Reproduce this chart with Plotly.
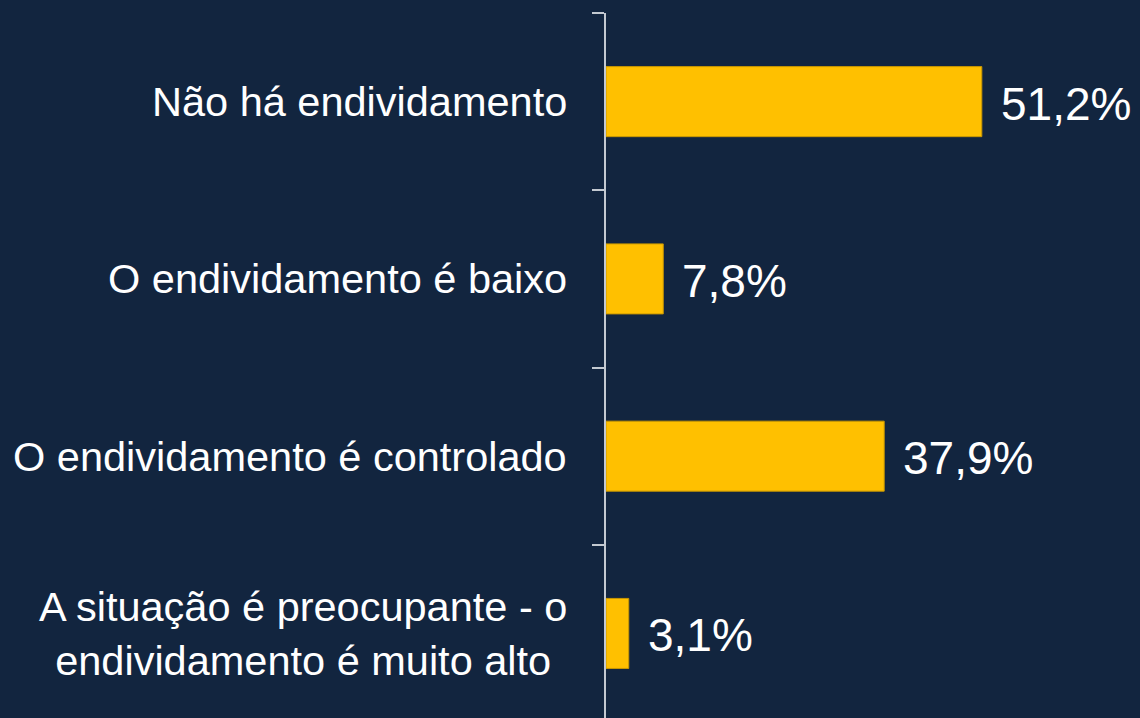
import plotly.graph_objects as go

categories = [
    "Não há endividamento",
    "O endividamento é baixo",
    "O endividamento é controlado",
    "A situação é preocupante - o<br>endividamento é muito alto",
]
values = [51.2, 7.8, 37.9, 3.1]
value_labels = ["51,2%", "7,8%", "37,9%", "3,1%"]

BG = "#12253F"
BAR = "#FFC000"
AXIS = "#C3C9D1"
FONT = "Liberation Sans, Arial, sans-serif"

fig = go.Figure()
fig.add_trace(go.Bar(
    x=values,
    y=categories,
    orientation="h",
    width=0.395,
    marker=dict(color=BAR, line=dict(color="#C99700", width=1)),
    hoverinfo="skip",
))

annotations = []
for c in categories:
    annotations.append(dict(
        x=0, y=c, xref="x", yref="y", text=c, showarrow=False,
        xanchor="right", yanchor="middle", align="center", xshift=-37,
        font=dict(family=FONT, size=41.5, color="white"),
    ))
for c, v, t in zip(categories, values, value_labels):
    annotations.append(dict(
        x=v, y=c, xref="x", yref="y", text=t, showarrow=False,
        xanchor="left", yanchor="middle", xshift=17, yshift=-2,
        font=dict(family=FONT, size=46, color="white"),
    ))

fig.update_layout(
    width=1140, height=718,
    margin=dict(l=606, r=0, t=13, b=0),
    paper_bgcolor=BG, plot_bgcolor=BG,
    showlegend=False,
    annotations=annotations,
    xaxis=dict(visible=False, range=[0, 72.75]),
    yaxis=dict(
        type="category",
        categoryorder="array", categoryarray=categories,
        range=[3.477, -0.5],
        showline=True, linecolor=AXIS, linewidth=2,
        ticks="outside", tickson="boundaries", ticklen=12, tickwidth=2,
        tickcolor=AXIS, showticklabels=False, showgrid=False, zeroline=False,
    ),
)

fig.write_html(
    "out.html",
    config={"displayModeBar": False, "staticPlot": True},
    post_script="document.body.style.margin='0';document.body.style.overflow='hidden';document.body.style.background='" + BG + "';",
)
